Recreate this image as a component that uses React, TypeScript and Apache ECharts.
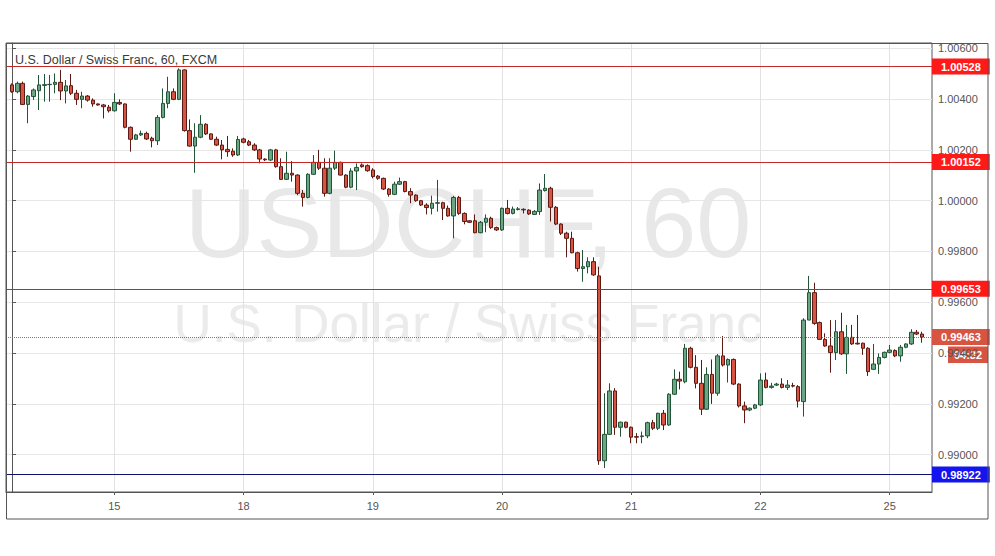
import React, { useEffect, useRef } from 'react';
import * as echarts from 'echarts';

const FONT = '"Liberation Sans", Arial, sans-serif';

const titleText = 'U.S. Dollar / Swiss Franc, 60, FXCM';
const watermarkSymbol = 'USDCHF, 60';
const watermarkName = 'U.S. Dollar / Swiss Franc';
const countdownText = '04:32';

// day boundaries (bar index of first hourly bar of each day) and their labels
const dayTickIndex = [19, 43, 67, 91, 115, 139, 163];
const dayLabels = ['15', '18', '19', '20', '21', '22', '25'];

// right price axis tick values
const priceTicks = [0.99, 0.992, 0.994, 0.996, 0.998, 1.0, 1.002, 1.004, 1.006];

// horizontal levels
const redLevels = [1.00528, 1.00152, 0.99653];
const blueLevels = [0.98922];

// hourly candles: [open, close, low, high]
const candles: number[][] = [
  [1.00456, 1.00429, 1.00425, 1.00462],
  [1.00429, 1.00462, 1.00423, 1.00469],
  [1.00462, 1.00379, 1.00377, 1.00469],
  [1.00379, 1.00412, 1.00305, 1.00416],
  [1.0041, 1.00436, 1.00397, 1.00442],
  [1.00433, 1.00456, 1.00357, 1.00495],
  [1.00454, 1.00457, 1.0039, 1.00499],
  [1.00457, 1.00458, 1.0039, 1.00495],
  [1.00458, 1.00466, 1.00423, 1.00501],
  [1.00466, 1.00432, 1.00396, 1.00515],
  [1.00432, 1.00452, 1.00383, 1.00475],
  [1.00453, 1.00423, 1.00416, 1.00499],
  [1.00423, 1.00399, 1.00377, 1.00436],
  [1.00399, 1.00412, 1.00364, 1.00429],
  [1.00412, 1.00396, 1.0039, 1.00416],
  [1.00396, 1.00381, 1.0037, 1.00403],
  [1.00381, 1.00377, 1.00374, 1.00383],
  [1.00377, 1.0037, 1.00324, 1.00381],
  [1.00368, 1.00354, 1.00347, 1.00377],
  [1.00354, 1.00387, 1.00351, 1.00423],
  [1.00387, 1.00381, 1.00377, 1.00399],
  [1.00381, 1.00289, 1.00285, 1.00383],
  [1.00289, 1.00242, 1.00193, 1.00292],
  [1.00242, 1.00259, 1.00239, 1.00263],
  [1.00259, 1.00265, 1.00255, 1.00276],
  [1.00265, 1.00243, 1.00239, 1.00272],
  [1.00246, 1.00236, 1.0021, 1.00252],
  [1.00236, 1.00328, 1.00219, 1.00337],
  [1.00328, 1.00383, 1.00324, 1.00442],
  [1.00383, 1.00429, 1.00364, 1.00488],
  [1.00429, 1.00399, 1.00396, 1.00442],
  [1.00399, 1.00515, 1.00396, 1.00521],
  [1.00515, 1.00276, 1.00272, 1.00517],
  [1.00276, 1.00215, 1.00213, 1.0032],
  [1.00215, 1.0025, 1.0011, 1.00305],
  [1.0025, 1.00301, 1.00246, 1.00337],
  [1.00301, 1.00263, 1.00259, 1.00305],
  [1.00263, 1.00242, 1.00239, 1.00265],
  [1.00242, 1.00219, 1.00215, 1.00252],
  [1.00219, 1.002, 1.00163, 1.00239],
  [1.00202, 1.00193, 1.00173, 1.00255],
  [1.00195, 1.0018, 1.00173, 1.00206],
  [1.0018, 1.00241, 1.00176, 1.00255],
  [1.00243, 1.0023, 1.00226, 1.00248],
  [1.00232, 1.00219, 1.00215, 1.00239],
  [1.00219, 1.002, 1.00196, 1.00226],
  [1.002, 1.00164, 1.00147, 1.00204],
  [1.00164, 1.00161, 1.00156, 1.00167],
  [1.0016, 1.002, 1.00156, 1.00204],
  [1.002, 1.00134, 1.0013, 1.00204],
  [1.00134, 1.00084, 1.00082, 1.00167],
  [1.00084, 1.00108, 1.00082, 1.00193],
  [1.00108, 1.00101, 1.00075, 1.00156],
  [1.00101, 1.00029, 1.00022, 1.00104],
  [1.00029, 1.00013, 0.99977, 1.00042],
  [1.00013, 1.00104, 1.00009, 1.00108],
  [1.00104, 1.00151, 1.00101, 1.0018],
  [1.00151, 1.00128, 1.00121, 1.002],
  [1.00128, 1.00029, 1.00016, 1.00167],
  [1.00029, 1.00128, 1.00025, 1.00167],
  [1.00128, 1.00151, 1.00121, 1.00197],
  [1.00151, 1.00101, 1.00099, 1.00154],
  [1.00101, 1.00053, 1.00049, 1.00104],
  [1.00053, 1.00117, 1.00049, 1.00128],
  [1.00117, 1.00131, 1.00042, 1.00147],
  [1.00141, 1.00134, 1.0013, 1.00147],
  [1.00138, 1.00118, 1.00114, 1.00143],
  [1.00121, 1.00095, 1.00088, 1.00128],
  [1.00097, 1.00088, 1.00082, 1.00101],
  [1.00088, 1.00046, 1.00042, 1.00091],
  [1.00046, 1.00025, 1.00016, 1.00049],
  [1.00025, 1.00065, 1.00022, 1.00075],
  [1.00065, 1.00075, 1.00062, 1.00091],
  [1.00075, 1.00036, 1.00033, 1.00078],
  [1.00036, 1.00022, 0.9999, 1.00049],
  [1.00022, 1.0, 0.99996, 1.00025],
  [1.0, 0.99983, 0.99979, 1.00003],
  [0.99983, 0.99973, 0.99946, 0.9999],
  [0.9997, 0.9999, 0.99946, 1.0002],
  [0.9999, 0.99992, 0.99957, 1.00082],
  [0.99992, 0.9997, 0.99924, 0.99996],
  [0.9997, 0.9994, 0.99937, 0.99981],
  [0.9994, 1.00013, 0.99852, 1.00019],
  [1.00013, 0.9995, 0.99944, 1.00019],
  [0.9995, 0.99918, 0.99907, 0.99954],
  [0.99921, 0.99915, 0.99912, 0.99923],
  [0.99921, 0.99874, 0.99872, 0.99946],
  [0.99874, 0.99915, 0.99872, 0.9992],
  [0.99915, 0.99931, 0.99876, 0.99946],
  [0.99931, 0.99894, 0.99889, 0.99937],
  [0.99894, 0.99885, 0.99881, 0.99898],
  [0.99885, 0.9997, 0.99881, 0.99973],
  [0.9997, 0.9995, 0.99946, 1.00003],
  [0.9995, 0.99967, 0.99946, 0.99977],
  [0.99965, 0.99968, 0.99962, 0.99975],
  [0.99966, 0.99964, 0.9995, 0.9997],
  [0.99963, 0.99948, 0.99944, 0.99966],
  [0.99946, 0.99958, 0.99944, 0.99963],
  [0.99957, 1.00042, 0.99944, 1.00068],
  [1.0004, 1.00049, 1.00036, 1.00105],
  [1.00049, 0.99974, 0.99918, 1.00055],
  [0.99974, 0.99908, 0.99904, 0.99979],
  [0.99908, 0.99872, 0.99865, 0.99911],
  [0.99872, 0.99852, 0.99777, 0.99878],
  [0.99852, 0.99795, 0.99793, 0.99878],
  [0.99795, 0.99733, 0.99721, 0.99799],
  [0.99733, 0.9974, 0.99681, 0.99806],
  [0.9974, 0.9976, 0.99714, 0.99777],
  [0.9976, 0.99708, 0.99704, 0.99777],
  [0.99704, 0.98976, 0.9896, 0.9974],
  [0.98976, 0.9908, 0.98947, 0.99242],
  [0.9908, 0.99251, 0.99078, 0.99281],
  [0.99251, 0.99108, 0.99078, 0.99262],
  [0.99108, 0.99128, 0.99071, 0.9913],
  [0.99128, 0.99108, 0.99104, 0.9913],
  [0.99108, 0.99069, 0.99045, 0.99111],
  [0.99071, 0.99069, 0.99045, 0.99085],
  [0.99071, 0.99074, 0.99045, 0.99091],
  [0.99074, 0.99126, 0.99065, 0.9913],
  [0.99126, 0.99104, 0.99097, 0.99137],
  [0.99104, 0.99163, 0.99097, 0.99165],
  [0.99163, 0.99117, 0.99097, 0.99176],
  [0.99117, 0.99238, 0.99114, 0.99242],
  [0.99238, 0.99297, 0.99235, 0.99336],
  [0.99297, 0.9929, 0.99257, 0.99327],
  [0.99287, 0.99419, 0.99281, 0.99436],
  [0.99419, 0.99344, 0.9934, 0.99425],
  [0.99344, 0.99281, 0.99261, 0.99392],
  [0.99281, 0.99179, 0.99156, 0.99373],
  [0.99179, 0.99316, 0.99176, 0.99344],
  [0.99316, 0.99242, 0.992, 0.99375],
  [0.99242, 0.99389, 0.99232, 0.99396],
  [0.99389, 0.99353, 0.99347, 0.99467],
  [0.99353, 0.99375, 0.99284, 0.99379],
  [0.99375, 0.99278, 0.99274, 0.99379],
  [0.99278, 0.99192, 0.99186, 0.99281],
  [0.99192, 0.99176, 0.99124, 0.99209],
  [0.99176, 0.99183, 0.99171, 0.99186],
  [0.99183, 0.99196, 0.99179, 0.992],
  [0.99196, 0.99294, 0.99192, 0.9932],
  [0.99294, 0.99265, 0.99261, 0.99323],
  [0.99265, 0.9927, 0.9926, 0.99283],
  [0.99274, 0.99278, 0.9927, 0.99283],
  [0.99278, 0.99265, 0.99261, 0.99301],
  [0.99265, 0.99274, 0.99255, 0.99294],
  [0.99272, 0.9927, 0.99265, 0.99283],
  [0.99268, 0.99211, 0.99186, 0.99274],
  [0.99209, 0.9953, 0.9915, 0.99537],
  [0.9953, 0.99638, 0.9953, 0.99704],
  [0.99638, 0.99517, 0.99511, 0.99677],
  [0.9952, 0.99454, 0.99452, 0.99524],
  [0.99454, 0.99428, 0.99425, 0.99478],
  [0.99428, 0.99402, 0.99323, 0.9953],
  [0.99402, 0.99484, 0.99373, 0.9953],
  [0.99484, 0.99397, 0.99393, 0.99559],
  [0.99397, 0.99462, 0.99318, 0.99511],
  [0.99462, 0.99436, 0.99432, 0.99511],
  [0.99439, 0.99436, 0.99434, 0.9955],
  [0.99439, 0.99419, 0.99393, 0.99441],
  [0.99419, 0.99327, 0.9931, 0.99423],
  [0.99336, 0.99357, 0.99334, 0.99436],
  [0.99357, 0.99383, 0.99318, 0.99399],
  [0.99383, 0.99403, 0.99379, 0.99406],
  [0.99403, 0.99412, 0.99399, 0.99432],
  [0.9941, 0.99389, 0.99384, 0.99415],
  [0.99389, 0.99423, 0.99366, 0.99432],
  [0.99423, 0.99436, 0.99419, 0.99439],
  [0.99436, 0.99482, 0.99432, 0.99494],
  [0.99482, 0.99475, 0.99471, 0.99491],
  [0.99475, 0.99463, 0.99441, 0.99484],
];

const UP = '#6ba583';
const DOWN = '#d75442';
const UP_BORDER = '#225437';
const DOWN_BORDER = '#5b1a13';

export default function App() {
  const ref = useRef<HTMLDivElement | null>(null);

  useEffect(() => {
    if (!ref.current) return;
    const chart = echarts.init(ref.current, undefined, { renderer: 'svg' });
    const last = candles[candles.length - 1];
    const lastClose = last[1];
    const lastColor = last[1] >= last[0] ? UP : DOWN;

    const boxLabel = (bg: string, text: string) => ({
      show: true,
      position: 'end',
      distance: 0,
      formatter: text,
      color: '#ffffff',
      fontWeight: 'bold',
      fontSize: 11,
      fontFamily: FONT,
      lineHeight: 12,
      padding: [2, 9, 2, 9],
      backgroundColor: bg,
    });

    const markData: any[] = [
      ...redLevels.map((v) => ({
        yAxis: v,
        lineStyle: { color: '#c62828', width: 1, type: 'solid' },
        label: boxLabel('#ff1a1a', v.toFixed(5)),
      })),
      ...blueLevels.map((v) => ({
        yAxis: v,
        lineStyle: { color: '#101070', width: 1, type: 'solid' },
        label: boxLabel('#1414ee', v.toFixed(5)),
      })),
      {
        yAxis: lastClose,
        lineStyle: { color: lastColor, width: 1, type: 'dotted' },
        label: boxLabel(lastColor, lastClose.toFixed(5)),
      },
    ];

    const option: any = {
      animation: false,
      backgroundColor: '#ffffff',
      grid: {
        left: 6,
        top: 43,
        width: 926,
        height: 449,
        show: true,
        borderColor: '#555555',
        borderWidth: 1,
      },
      xAxis: {
        type: 'value',
        min: -1.11,
        max: 170.85,
        axisLine: { show: true, lineStyle: { color: '#555555' } },
        axisTick: {
          show: true,
          length: 3,
          customValues: dayTickIndex,
          lineStyle: { color: '#555555' },
        },
        axisLabel: {
          customValues: dayTickIndex,
          formatter: (v: number) => {
            const k = dayTickIndex.indexOf(Math.round(v));
            return k >= 0 ? dayLabels[k] : '';
          },
          color: '#555555',
          fontSize: 11,
          fontFamily: FONT,
          margin: 8,
        },
        splitLine: { show: true, lineStyle: { color: '#e2e2e2', width: 1 } },
      },
      yAxis: {
        type: 'value',
        position: 'right',
        min: 0.988531,
        max: 1.006209,
        axisLine: { show: true, lineStyle: { color: '#555555' } },
        axisTick: {
          show: true,
          length: 4,
          customValues: priceTicks,
          lineStyle: { color: '#555555' },
        },
        axisLabel: {
          customValues: priceTicks,
          formatter: (v: number) => v.toFixed(5),
          color: '#555555',
          fontSize: 11,
          fontFamily: FONT,
          margin: 6,
        },
        splitLine: { show: true, lineStyle: { color: '#e6e6e6', width: 1 } },
      },
      graphic: [
        {
          type: 'text',
          z: -5,
          silent: true,
          style: {
            x: 468,
            y: 222,
            text: watermarkSymbol,
            fill: '#e8e8e8',
            font: `99px ${FONT}`,
            align: 'center',
            verticalAlign: 'middle',
          },
        },
        {
          type: 'text',
          z: -5,
          silent: true,
          style: {
            x: 468,
            y: 323,
            text: watermarkName,
            fill: '#ebebeb',
            font: `53px ${FONT}`,
            align: 'center',
            verticalAlign: 'middle',
          },
        },
        {
          type: 'text',
          z: 50,
          silent: true,
          style: {
            x: 15,
            y: 60,
            text: titleText,
            fill: '#3a3a3a',
            font: `12.5px ${FONT}`,
            align: 'left',
            verticalAlign: 'middle',
          },
        },
        {
          type: 'rect',
          z: 60,
          silent: true,
          shape: { x: 6.5, y: 43.5, width: 981.5, height: 475.5 },
          style: { fill: 'none', stroke: '#555555', lineWidth: 1 },
        },
      ],
      series: [
        {
          type: 'candlestick',
          data: candles.map((c, i) => [i, c[0], c[1], c[2], c[3]]),
          encode: { x: 0, y: [1, 2, 3, 4] },
          barWidth: 4,
          itemStyle: {
            color: UP,
            color0: DOWN,
            borderColor: UP_BORDER,
            borderColor0: DOWN_BORDER,
            borderWidth: 1,
          },
          markLine: {
            silent: true,
            precision: 5,
            symbol: ['none', 'none'],
            animation: false,
            data: markData,
          },
        },
      ],
    };

    chart.setOption(option);

    // countdown box just under the last-price label
    const py = chart.convertToPixel({ yAxisIndex: 0 }, lastClose) as number;
    chart.setOption({
      graphic: [
        ...option.graphic,
        {
          type: 'group',
          z: 70,
          silent: true,
          children: [
            {
              type: 'rect',
              shape: { x: 948, y: py + 9.5, width: 40, height: 16.5 },
              style: { fill: lastColor },
            },
            {
              type: 'text',
              style: {
                x: 968,
                y: py + 18,
                text: countdownText,
                fill: '#ffffff',
                font: `bold 11px ${FONT}`,
                align: 'center',
                verticalAlign: 'middle',
              },
            },
          ],
        },
      ],
    });

    return () => {
      chart.dispose();
    };
  }, []);

  return (
    <div
      ref={ref}
      style={{ position: 'absolute', left: 0, top: 0, width: 995, height: 556, background: '#fff' }}
    />
  );
}
